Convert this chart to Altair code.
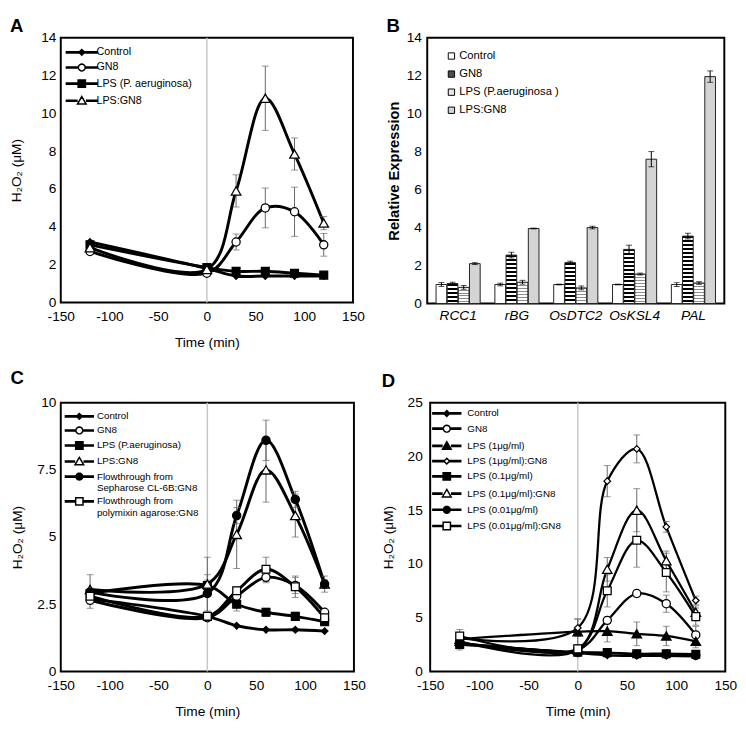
import math
import altair as alt

FONT = "Liberation Sans"
TIME = [-120, 0, 30, 60, 90, 120]
X_TICKS = [-150, -100, -50, 0, 50, 100, 150]

# ---------------- Panel A ----------------
A_SERIES = ["Control", "GN8", "LPS (P. aeruginosa)", "LPS:GN8"]
A_CONTROL = [3.2, 1.8, 1.4, 1.4, 1.4, 1.4]
A_GN8 = [2.7, 1.55, 3.2, 5.0, 4.8, 3.05]
A_LPS = [3.05, 1.85, 1.65, 1.65, 1.55, 1.45]
A_LPSGN8 = [2.9, 1.75, 5.9, 10.8, 7.85, 4.2]
A_CONTROL_ERR = [0.1, 0.1, 0.05, 0.05, 0.05, 0.05]
A_GN8_ERR = [0.1, 0.1, 0.42, 1.05, 1.3, 0.6]
A_LPS_ERR = [0.1, 0.1, 0.05, 0.05, 0.05, 0.05]
A_LPSGN8_ERR = [0.1, 0.15, 0.85, 1.7, 0.85, 0.35]

# ---------------- Panel B ----------------
GENES = ["RCC1", "rBG", "OsDTC2", "OsKSL4", "PAL"]
B_SERIES = ["Control", "GN8", "LPS (P.aeruginosa )", "LPS:GN8"]
B_CONTROL = [1.0, 1.0, 1.0, 1.0, 1.0]
B_GN8 = [1.05, 2.55, 2.15, 2.85, 3.55]
B_LPS = [0.85, 1.12, 0.82, 1.55, 1.08]
B_LPSGN8 = [2.1, 3.95, 4.0, 7.6, 11.95]
B_CONTROL_ERR = [0.1, 0.07, 0.02, 0.02, 0.1]
B_GN8_ERR = [0.07, 0.15, 0.08, 0.22, 0.15]
B_LPS_ERR = [0.1, 0.1, 0.1, 0.05, 0.07]
B_LPSGN8_ERR = [0.05, 0.02, 0.07, 0.4, 0.3]

# ---------------- Panel C ----------------
C_SERIES = ["Control", "GN8", "LPS (P.aeruginosa)", "LPS:GN8",
            "Flowthrough from|Sepharose CL-6B:GN8",
            "Flowthrough from|polymixin agarose:GN8"]
C_CONTROL = [2.7, 2.05, 1.7, 1.55, 1.55, 1.5]
C_GN8 = [2.65, 2.0, 2.8, 3.5, 3.2, 2.2]
C_LPS = [2.9, 3.2, 2.5, 2.2, 2.05, 1.85]
C_LPSGN8 = [3.05, 3.25, 5.1, 7.5, 5.8, 3.25]
C_SEPH = [2.95, 2.9, 5.8, 8.6, 6.4, 3.25]
C_POLY = [2.8, 2.05, 3.0, 3.8, 3.15, 2.0]
C_CONTROL_ERR = [0.1, 0.05, 0.05, 0.05, 0.05, 0.05]
C_GN8_ERR = [0.3, 0.1, 0.2, 0.2, 0.3, 0.1]
C_LPS_ERR = [0.2, 0.2, 0.25, 0.15, 0.15, 0.1]
C_LPSGN8_ERR = [0.55, 1.0, 1.27, 1.2, 0.8, 0.3]
C_SEPH_ERR = [0.1, 0.7, 0.3, 0.75, 0.3, 0.15]
C_POLY_ERR = [0.2, 0.15, 0.15, 0.45, 0.4, 0.15]

# ---------------- Panel D ----------------
D_SERIES = ["Control", "GN8", "LPS (1μg/ml)", "LPS (1μg/ml):GN8",
            "LPS (0.1μg/ml)", "LPS (0.1μg/ml):GN8",
            "LPS (0.01μg/ml)", "LPS (0.01μg/ml):GN8"]
D_CONTROL = [2.6, 1.7, 1.5, 1.45, 1.45, 1.4]
D_GN8 = [2.7, 2.0, 4.75, 7.25, 6.3, 3.4]
D_LPS1 = [3.0, 3.7, 3.75, 3.5, 3.3, 2.8]
D_LPS1GN8 = [3.1, 4.05, 17.7, 20.7, 13.45, 6.6]
D_LPS01 = [2.5, 1.8, 1.75, 1.65, 1.65, 1.6]
D_LPS01GN8 = [2.8, 2.0, 9.5, 15.0, 10.3, 5.5]
D_LPS001 = [2.6, 1.75, 1.7, 1.6, 1.6, 1.5]
D_LPS001GN8 = [3.3, 2.1, 7.5, 12.2, 9.2, 5.1]
D_CONTROL_ERR = [0.1, 0.1, 0.05, 0.05, 0.05, 0.05]
D_GN8_ERR = [0.1, 0.1, 0.3, 0.3, 0.8, 0.8]
D_LPS1_ERR = [0.3, 1.2, 1.0, 1.1, 0.9, 0.6]
D_LPS1GN8_ERR = [0.2, 0.8, 1.45, 1.3, 0.5, 0.4]
D_LPS01_ERR = [0.5, 0.1, 0.1, 0.1, 0.1, 0.1]
D_LPS01GN8_ERR = [0.2, 0.2, 1.1, 2.0, 0.9, 0.6]
D_LPS001_ERR = [0.2, 0.1, 0.1, 0.1, 0.1, 0.1]
D_LPS001GN8_ERR = [0.6, 0.2, 1.5, 2.5, 1.8, 0.8]


# ---------------- helpers (styles) ----------------
def fmt(v):
    return f"{v:.3f}"


def circle_path(r, n=20):
    pts = [(r * math.cos(2 * math.pi * k / n), r * math.sin(2 * math.pi * k / n)) for k in range(n)]
    return "M" + "L".join(f"{fmt(x)},{fmt(y)}" for x, y in pts) + "Z"


def marker_path(kind, r):
    if kind == "circle":
        return circle_path(r)
    if kind == "square":
        return f"M{fmt(-r)},{fmt(-r)}L{fmt(r)},{fmt(-r)}L{fmt(r)},{fmt(r)}L{fmt(-r)},{fmt(r)}Z"
    if kind == "diamond":
        return f"M0,{fmt(-r)}L{fmt(r)},0L0,{fmt(r)}L{fmt(-r)},0Z"
    return f"M0,{fmt(-r)}L{fmt(r * 1.05)},{fmt(r * 0.8)}L{fmt(-r * 1.05)},{fmt(r * 0.8)}Z"


MARKER_R = {"diamond": 0.6, "circle": 0.7, "square": 0.75, "triangle-up": 0.85}
MARKER_SIZE = {"diamond": 45, "circle": 70, "square": 64, "triangle-up": 95}


def legend_symbol(kind, L):
    r = MARKER_R[kind]
    w = 0.12
    line = (f"M{fmt(-L)},{fmt(-w)}L{fmt(-r)},{fmt(-w)}M{fmt(-L)},{fmt(w)}L{fmt(-r)},{fmt(w)}"
            f"M{fmt(r)},{fmt(-w)}L{fmt(L)},{fmt(-w)}M{fmt(r)},{fmt(w)}L{fmt(L)},{fmt(w)}")
    return line + marker_path(kind, r)


def build_records(series, values, errors):
    recs = []
    for name, vals, errs in zip(series, values, errors):
        for t, v, e in zip(TIME, vals, errs):
            recs.append({"series": name, "t": t, "v": v, "lo": v - e, "hi": v + e, "e": e})
    return recs


def letter_title(letter, offset):
    return alt.TitleParams(letter, anchor="start", frame="bounds", fontSize=19,
                           fontWeight="bold", font=FONT, color="black", offset=offset)


def line_panel(letter, t_off, series, values, errors, markers, fills, ydom, yvals,
               width, height, lw, ylab_pad, ytitle_pad, leg):
    data = alt.Data(values=build_records(series, values, errors))
    xs = alt.Scale(domain=[-150, 150], nice=False, zero=False, padding=0)
    ys = alt.Scale(domain=ydom, nice=False, zero=True, padding=0)
    xaxis = alt.Axis(values=X_TICKS, title="Time (min)", labelExpr="'' + datum.value",
                     ticks=False, labelPadding=7, titlePadding=13.5, labelFontSize=14,
                     titleFontSize=14, titleFontWeight="normal", labelFlush=False,
                     labelOverlap=False)
    yaxis = alt.Axis(values=yvals, title="H₂O₂ (μM)", labelExpr="'' + datum.value",
                     ticks=False, labelPadding=ylab_pad, titlePadding=ytitle_pad,
                     labelFontSize=14, titleFontSize=14, titleFontWeight="normal",
                     labelFlush=False, labelOverlap=False)
    X = alt.X("t:Q", scale=xs, axis=xaxis)
    Y = alt.Y("v:Q", scale=ys, axis=yaxis)
    YLO = alt.Y("lo:Q", scale=ys, axis=yaxis)
    YHI = alt.Y("hi:Q", scale=ys, axis=yaxis)

    zero = alt.Chart(alt.Data(values=[{"t": 0}])).mark_rule(
        color="#c8c8c8", strokeWidth=1.5).encode(x=X)
    base = alt.Chart(data)
    lines = base.mark_line(interpolate="catmull-rom", color="black",
                           strokeWidth=lw).encode(x=X, y=Y, detail="series:N")
    errd = base.transform_filter("datum.e > 0.12")
    rules = errd.mark_rule(color="#666666", strokeWidth=1).encode(x=X, y=YLO, y2="hi:Q")
    cap_lo = errd.mark_tick(orient="horizontal", color="#666666", size=7,
                            thickness=1).encode(x=X, y=YLO)
    cap_hi = errd.mark_tick(orient="horizontal", color="#666666", size=7,
                            thickness=1).encode(x=X, y=YHI)

    groups = {}
    for s, m, f in zip(series, markers, fills):
        groups.setdefault((m, f), []).append(s)
    point_layers = []
    for (m, f), members in groups.items():
        point_layers.append(
            base.transform_filter(alt.FieldOneOfPredicate(field="series", oneOf=members))
            .mark_point(shape=m, filled=True, fill=f, stroke="black", strokeWidth=1.3,
                        size=MARKER_SIZE[m], opacity=1)
            .encode(x=X, y=Y))

    paths = [legend_symbol(m, leg["L"]) for m in markers]
    legend = alt.Legend(title=None, orient="none", legendX=leg["x"], legendY=leg["y"],
                        direction="vertical", padding=0, symbolSize=100,
                        symbolStrokeWidth=1.5, symbolStrokeColor="black", symbolOpacity=1,
                        labelFontSize=leg["fs"], labelFont=FONT, labelColor="black",
                        labelOffset=leg["lo"], rowPadding=leg["rp"], labelLimit=400,
                        labelExpr="split(datum.label, '|')")
    leg_layer = alt.Chart(alt.Data(values=[{"series": s} for s in series])).transform_filter(
        "false").mark_point(filled=True, strokeWidth=1.5, opacity=1).encode(
        shape=alt.Shape("series:N", scale=alt.Scale(domain=series, range=paths), legend=legend),
        fill=alt.Fill("series:N", scale=alt.Scale(domain=series, range=fills), legend=legend),
        stroke=alt.Stroke("series:N", scale=alt.Scale(domain=series,
                                                      range=["black"] * len(series)),
                          legend=legend),
    )
    return alt.layer(zero, lines, rules, cap_lo, cap_hi, *point_layers, leg_layer).resolve_scale(
        shape="independent", fill="independent", stroke="independent").properties(
        width=width, height=height, title=letter_title(letter, t_off))


# ---------------- Panel B construction ----------------
B_W, B_H = 304, 272


def stripes(v, period, dark, frac):
    h = v * B_H / 14.0
    n = max(1, round(h / period))
    stops = []
    for k in range(n):
        a, b, c = k / n, (k + frac) / n, (k + 1) / n
        stops += [{"offset": round(a, 5), "color": dark}, {"offset": round(b, 5), "color": dark},
                  {"offset": round(b, 5), "color": "white"}, {"offset": round(c, 5), "color": "white"}]
    return {"gradient": "linear", "x1": 0, "y1": 0, "x2": 0, "y2": 1, "stops": stops}


def bar_fill(idx, v):
    if idx == 0:
        return "white"
    if idx == 1:
        return stripes(v, 4.0, "black", 0.5)
    if idx == 2:
        return stripes(v, 3.0, "#8c8c8c", 0.34)
    return "#d4d4d4"


B_VALUES = [B_CONTROL, B_GN8, B_LPS, B_LPSGN8]
B_ERRORS = [B_CONTROL_ERR, B_GN8_ERR, B_LPS_ERR, B_LPSGN8_ERR]
brecs = []
for i, (s, vals, errs) in enumerate(zip(B_SERIES, B_VALUES, B_ERRORS)):
    for g, v, e in zip(GENES, vals, errs):
        brecs.append({"gene": g, "series": s, "v": v, "lo": v - e, "hi": v + e,
                      "fillspec": bar_fill(i, v)})
bdata = alt.Data(values=brecs)

bys = alt.Scale(domain=[0, 14], nice=False, padding=0)
byaxis = alt.Axis(values=list(range(0, 15, 2)), title="Relative Expression",
                  titleFontWeight="bold", titleFontSize=15, labelFontSize=14,
                  ticks=False, labelPadding=6, titlePadding=5, labelFlush=False,
                  labelOverlap=False)
bx = alt.X("gene:N", sort=GENES,
           scale=alt.Scale(domain=GENES, paddingInner=0.25, paddingOuter=0.15),
           axis=alt.Axis(title=None, labelAngle=0, labelFontStyle="italic", labelFontSize=14,
                         ticks=False, labelPadding=5))
bxo = alt.XOffset("series:N", sort=B_SERIES,
                  scale=alt.Scale(domain=B_SERIES, paddingInner=0.04))
bars = alt.Chart(bdata).mark_bar(stroke="#222222", strokeWidth=1).encode(
    x=bx, xOffset=bxo, y=alt.Y("v:Q", stack=None, scale=bys, axis=byaxis),
    fill=alt.Fill("fillspec:N", scale=None))
brule = alt.Chart(bdata).mark_rule(color="black", strokeWidth=1).encode(
    x=bx, xOffset=bxo, y=alt.Y("lo:Q", scale=bys, axis=byaxis), y2="hi:Q")
bcap_lo = alt.Chart(bdata).mark_tick(orient="horizontal", color="black", size=6,
                                     thickness=1).encode(
    x=bx, xOffset=bxo, y=alt.Y("lo:Q", scale=bys, axis=byaxis))
bcap_hi = alt.Chart(bdata).mark_tick(orient="horizontal", color="black", size=6,
                                     thickness=1).encode(
    x=bx, xOffset=bxo, y=alt.Y("hi:Q", scale=bys, axis=byaxis))
bleg = alt.Chart(alt.Data(values=[{"series": s} for s in B_SERIES])).transform_filter(
    "false").mark_square(stroke="black", strokeWidth=1, opacity=1).encode(
    fill=alt.Fill("series:N",
                  scale=alt.Scale(domain=B_SERIES,
                                  range=["white", "#4d4d4d", "#e6e6e6", "#d4d4d4"]),
                  legend=alt.Legend(title=None, orient="none", legendX=19, legendY=13,
                                    direction="vertical", padding=0, symbolType="square",
                                    symbolSize=42, symbolStrokeColor="black",
                                    symbolStrokeWidth=1, symbolOpacity=1,
                                    labelFontSize=11.5, labelFont=FONT, labelColor="black",
                                    labelOffset=2.2, rowPadding=5.5, labelLimit=400)))
panel_b = alt.layer(bars, brule, bcap_lo, bcap_hi, bleg).resolve_scale(
    fill="independent").properties(width=B_W, height=B_H, title=letter_title("B", -5))

# ---------------- line panels ----------------
panel_a = line_panel(
    "A", -5, A_SERIES, [A_CONTROL, A_GN8, A_LPS, A_LPSGN8],
    [A_CONTROL_ERR, A_GN8_ERR, A_LPS_ERR, A_LPSGN8_ERR],
    ["diamond", "circle", "square", "triangle-up"],
    ["black", "white", "black", "white"],
    [0, 14], list(range(0, 15, 2)), 299, 271, 3.0, 5, 17.5,
    {"x": 15.5, "y": 9, "L": 3.3, "fs": 11, "lo": 9, "rp": 2.5})

panel_c = line_panel(
    "C", 8, C_SERIES, [C_CONTROL, C_GN8, C_LPS, C_LPSGN8, C_SEPH, C_POLY],
    [C_CONTROL_ERR, C_GN8_ERR, C_LPS_ERR, C_LPSGN8_ERR, C_SEPH_ERR, C_POLY_ERR],
    ["diamond", "circle", "square", "triangle-up", "circle", "square"],
    ["black", "white", "black", "white", "black", "white"],
    [0, 10], [0, 2.5, 5, 7.5, 10], 300, 275, 3.0, 5, 13,
    {"x": 13, "y": 8, "L": 3.0, "fs": 10, "lo": 12, "rp": 1.4})

panel_d = line_panel(
    "D", 5, D_SERIES,
    [D_CONTROL, D_GN8, D_LPS1, D_LPS1GN8, D_LPS01, D_LPS01GN8, D_LPS001, D_LPS001GN8],
    [D_CONTROL_ERR, D_GN8_ERR, D_LPS1_ERR, D_LPS1GN8_ERR, D_LPS01_ERR, D_LPS01GN8_ERR,
     D_LPS001_ERR, D_LPS001GN8_ERR],
    ["diamond", "circle", "triangle-up", "diamond", "square", "triangle-up", "circle", "square"],
    ["black", "white", "black", "white", "black", "white", "black", "white"],
    [0, 25], [0, 5, 10, 15, 20, 25], 302, 275, 2.3, 8, 12,
    {"x": 11, "y": 5, "L": 3.0, "fs": 10, "lo": 15, "rp": 2.6})

row1 = alt.hconcat(panel_a, panel_b, spacing=76, bounds="flush")
row2 = alt.hconcat(panel_c, panel_d, spacing=78, bounds="flush")

chart = alt.vconcat(row1, row2, spacing=17.5).properties(
    padding={"left": 0, "top": 0, "right": 0, "bottom": 0}
).configure(font=FONT).configure_view(
    stroke="black", strokeWidth=2
).configure_axis(
    grid=False, domain=False, labelColor="black", titleColor="black",
    labelFont=FONT, titleFont=FONT
).configure_title(font=FONT, color="black")

chart.save("out.html", embed_options={"renderer": "svg", "actions": False})
